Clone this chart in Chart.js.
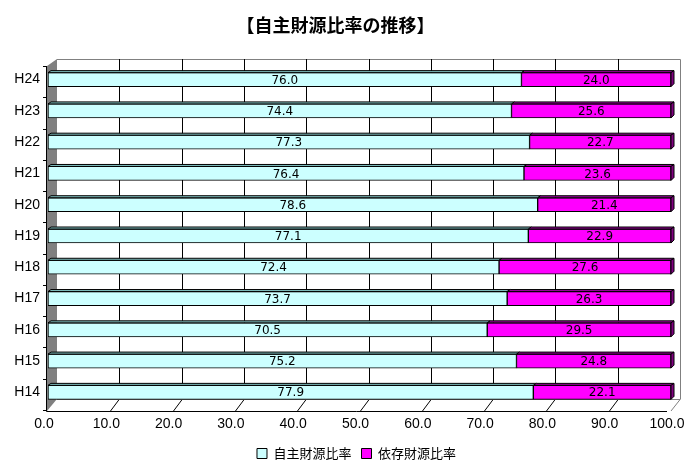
<!DOCTYPE html>
<html>
<head>
<meta charset="utf-8">
<script src="https://cdn.jsdelivr.net/npm/chart.js@4"></script>
<style>
  html, body { margin: 0; padding: 0; background: #fff; }
  #wrap { width: 700px; height: 470px; }
</style>
</head>
<body>
<div id="wrap"><canvas id="c" width="700" height="470"></canvas></div>
<script>
// ===== DATA =====
const years      = ["H14", "H15", "H16", "H17", "H18", "H19", "H20", "H21", "H22", "H23", "H24"];
const selfRatio  = [77.9, 75.2, 70.5, 73.7, 72.4, 77.1, 78.6, 76.4, 77.3, 74.4, 76.0];
const depRatio   = [22.1, 24.8, 29.5, 26.3, 27.6, 22.9, 21.4, 23.6, 22.7, 25.6, 24.0];
const seriesNames = ["自主財源比率", "依存財源比率"];
const xTicks     = [0, 10, 20, 30, 40, 50, 60, 70, 80, 90, 100];

const DX = 9, DY = -12;   // 3d depth of walls
const BD = 3;             // 3d depth of bars

// ===== 3D WALLS + GRID =====
const walls = {
  id: "walls",
  afterLayout(chart) {
    // legend sits centred under the whole picture, not the plot
    if (chart.legend) { chart.legend.left += 21; chart.legend.right += 21; }
  },
  beforeDatasetsDraw(chart) {
    const { ctx, chartArea: a, scales: { x } } = chart;
    const fb = a.bottom + 3;          // front bottom
    const bt = a.top - 5;             // back top
    const bl = a.left + DX;
    const br = x.getPixelForValue(100) + DX;
    const bb = fb + DY;

    ctx.save();
    // side wall
    ctx.fillStyle = "#808080";
    ctx.beginPath();
    ctx.moveTo(a.left - 1, bt + 7);
    ctx.lineTo(bl, bt);
    ctx.lineTo(bl, bb);
    ctx.lineTo(a.left - 1, fb);
    ctx.closePath();
    ctx.fill();

    // back wall border
    ctx.strokeStyle = "#808080";
    ctx.lineWidth = 1;
    ctx.beginPath();
    ctx.moveTo(bl, bt + 0.5);
    ctx.lineTo(br + 0.5, bt + 0.5);
    ctx.lineTo(br + 0.5, bb);
    ctx.lineTo(x.getPixelForValue(100), fb);
    ctx.stroke();

    // grid lines on back wall
    ctx.strokeStyle = "#000";
    xTicks.forEach(v => {
      if (v === 0 || v === 100) return;
      const px = Math.round(x.getPixelForValue(v) + DX) + 0.5;
      ctx.beginPath();
      ctx.moveTo(px, bt);
      ctx.lineTo(px, bb);
      ctx.stroke();
      // floor diagonal
      ctx.beginPath();
      ctx.moveTo(px - DX, fb);
      ctx.lineTo(px, bb);
      ctx.stroke();
    });

    // floor back edge
    ctx.strokeStyle = "#808080";
    ctx.beginPath();
    ctx.moveTo(bl, bb + 0.5);
    ctx.lineTo(br, bb + 0.5);
    ctx.stroke();

    // axes
    ctx.strokeStyle = "#000";
    ctx.beginPath();
    ctx.moveTo(a.left - 1.5, bt + 7);
    ctx.lineTo(a.left - 1.5, fb + 0.5);
    ctx.lineTo(x.getPixelForValue(100) - 4, fb + 0.5);
    ctx.stroke();

    // category ticks on y axis
    const band = (a.bottom - a.top) / years.length;
    for (let i = 0; i <= years.length; i++) {
      const py = Math.round(a.top + 2 + band * i) + 0.5;
      ctx.beginPath();
      ctx.moveTo(a.left - 5, py);
      ctx.lineTo(a.left - 1, py);
      ctx.stroke();
    }
    ctx.restore();
  }
};

// ===== 3D BAR FACES + LABELS =====
const barDeco = {
  id: "barDeco",
  afterDatasetsDraw(chart) {
    const { ctx } = chart;
    const tops  = ["#7fbfbf", "#990099"];
    ctx.save();
    ctx.lineWidth = 1;
    ctx.strokeStyle = "#000";
    chart.data.datasets.forEach((ds, di) => {
      chart.getDatasetMeta(di).data.forEach((bar, i) => {
        const l = Math.min(bar.base, bar.x), r = Math.max(bar.base, bar.x);
        const t = bar.y - bar.height / 2, b = bar.y + bar.height / 2;
        // top face
        ctx.fillStyle = tops[di];
        ctx.beginPath();
        ctx.moveTo(l, t);
        ctx.lineTo(l + BD, t - BD + 1);
        ctx.lineTo(r + BD, t - BD + 1);
        ctx.lineTo(r, t);
        ctx.closePath();
        ctx.fill();
        ctx.stroke();
        // right side face
        if (di === chart.data.datasets.length - 1) {
          ctx.fillStyle = "#800080";
          ctx.beginPath();
          ctx.moveTo(r, t);
          ctx.lineTo(r + BD, t - BD + 1);
          ctx.lineTo(r + BD, b - BD);
          ctx.lineTo(r, b);
          ctx.closePath();
          ctx.fill();
          ctx.stroke();
        }
        // value label
        ctx.fillStyle = "#000";
        ctx.font = "12px 'DejaVu Sans'";
        ctx.textAlign = "center";
        ctx.textBaseline = "middle";
        ctx.fillText(ds.data[i].toFixed(1), (l + r) / 2, bar.y + 1);
      });
    });
    ctx.restore();
  }
};

new Chart(document.getElementById("c"), {
  type: "bar",
  data: {
    labels: years,
    datasets: [
      { label: seriesNames[0], data: selfRatio, backgroundColor: "#ccffff", borderColor: "#000", borderWidth: 1, borderSkipped: false },
      { label: seriesNames[1], data: depRatio,  backgroundColor: "#ff00ff", borderColor: "#000", borderWidth: 1, borderSkipped: false }
    ]
  },
  options: {
    indexAxis: "y",
    responsive: false,
    animation: false,
    devicePixelRatio: 1,
    layout: { padding: { left: 0, right: 29, top: 0, bottom: 0 } },
    datasets: { bar: { barThickness: 14 } },
    scales: {
      x: {
        stacked: true, min: 0, max: 100,
        afterBuildTicks: s => { s.ticks = xTicks.map(v => ({ value: v })); },
        afterFit: s => { s.height = 29; },
        grid: { display: false, drawTicks: false },
        border: { display: false },
        ticks: {
          padding: 8,
          labelOffset: -4,
          color: "#000",
          font: { family: "'Liberation Sans'", size: 14 },
          callback: v => Number(v).toFixed(1)
        }
      },
      y: {
        stacked: true, reverse: true,
        afterFit: s => { s.width = 48; },
        grid: { display: false, drawTicks: false },
        border: { display: false },
        ticks: {
          padding: 8,
          color: "#000",
          font: { family: "'Liberation Sans'", size: 14 }
        }
      }
    },
    plugins: {
      title: {
        display: true,
        text: "【自主財源比率の推移】",
        color: "#000",
        font: { family: "'Noto Sans CJK JP'", size: 18, weight: "bold" },
        padding: { top: 14, bottom: 28.4 }
      },
      legend: {
        position: "bottom",
        labels: {
          color: "#000",
          boxWidth: 10, boxHeight: 10,
          font: { family: "'Noto Sans CJK JP'", size: 13 }
        }
      },
      tooltip: { enabled: false }
    }
  },
  plugins: [walls, barDeco]
});
</script>
</body>
</html>
